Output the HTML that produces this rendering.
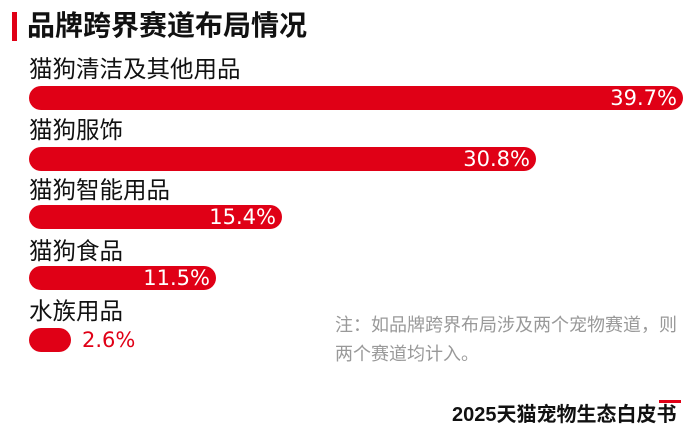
<!DOCTYPE html>
<html><head><meta charset="utf-8"><style>
body{margin:0;width:690px;height:436px;background:#fff;position:relative;overflow:hidden;font-family:"Liberation Sans","Noto Sans CJK SC",sans-serif;}
.a{position:absolute;}
.lbl{font-size:23.5px;color:#111;line-height:1;}
.bar{position:absolute;left:29px;height:24px;background:#e00016;border-radius:12px;color:#fff;font-size:21px;line-height:24px;text-align:right;box-sizing:border-box;padding-right:6px;font-family:"DejaVu Sans","Noto Sans CJK SC",sans-serif;}
</style></head><body>
<div class="a" style="left:12px;top:12px;width:5px;height:29px;background:#e00016"></div>
<div class="a" style="left:27px;top:9px;font-size:28px;font-weight:bold;color:#111;line-height:34px">品牌跨界赛道布局情况</div>
<div class="a lbl" style="left:29px;top:58px">猫狗清洁及其他用品</div>
<div class="bar" style="top:86px;width:654px">39.7%</div>
<div class="a lbl" style="left:29px;top:119px">猫狗服饰</div>
<div class="bar" style="top:147px;width:507px">30.8%</div>
<div class="a lbl" style="left:29px;top:179px">猫狗智能用品</div>
<div class="bar" style="top:205px;width:253px">15.4%</div>
<div class="a lbl" style="left:29px;top:240px">猫狗食品</div>
<div class="bar" style="top:266px;width:187px">11.5%</div>
<div class="a lbl" style="left:29px;top:300px">水族用品</div>
<div class="bar" style="top:328px;width:42px"></div>
<div class="a" style="left:82px;top:328px;font-size:21px;line-height:24px;color:#e00016;font-family:'DejaVu Sans',sans-serif">2.6%</div>
<div class="a" style="left:335px;top:311px;font-size:18px;color:#999;line-height:29px">注：如品牌跨界布局涉及两个宠物赛道，则<br>两个赛道均计入。</div>
<div class="a" style="left:659px;top:400px;width:22px;height:3px;background:#e00016"></div>
<div class="a" style="left:452px;top:403px;font-size:20px;font-weight:bold;color:#111;line-height:24px;white-space:nowrap">2025天猫宠物生态白皮书</div>
</body></html>
